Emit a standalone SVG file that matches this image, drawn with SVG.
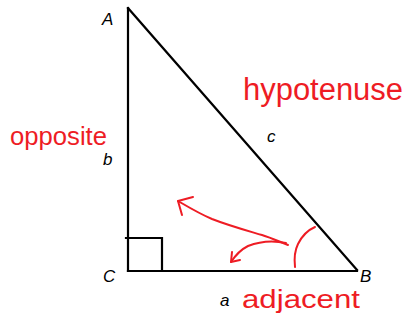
<svg xmlns="http://www.w3.org/2000/svg" width="412" height="322" viewBox="0 0 412 322">
<style>
.lbl{font-family:"Liberation Sans",Arial,sans-serif;font-style:italic;font-size:17px;fill:#000}
.hand{font-family:"Liberation Sans",Arial,sans-serif;fill:#ee1c24}
.edge{stroke:#000;stroke-width:2.2;fill:none;stroke-linecap:square}
.red{stroke:#ee1c24;stroke-width:2;fill:none;stroke-linecap:round;stroke-linejoin:round}
</style>
<rect width="412" height="322" fill="#fff"/>
<g id="connectors">
<line class="edge" x1="128" y1="8" x2="128" y2="271"/>
<line class="edge" x1="128" y1="271" x2="357" y2="271"/>
<line class="edge" x1="128" y1="8" x2="357" y2="270"/>
<path class="edge" d="M126,238 H162 V271"/>
<path class="red" d="M295,267 C294,258 295,250 298,244 C302,236 308,230 315,227"/>
<path class="red" d="M288,245 C280,242 272,238 262,235 C245,230 230,226 212,219 C200,214 190,208 178,201"/>
<path class="red" d="M178,201 L193,197 M178,201 L182,215"/>
<path class="red" d="M286,243 C272,240 258,242 248,246 C240,250 235,256 231,262"/>
<path class="red" d="M231,262 L240,260 M231,262 L232,252"/>
</g>
<g id="vertex-A"><text class="lbl" x="102" y="25">A</text></g>
<g id="vertex-B"><text class="lbl" x="360" y="282">B</text></g>
<g id="vertex-C"><text class="lbl" x="103" y="282">C</text></g>
<g id="side-a"><text class="lbl" x="220" y="306">a</text></g>
<g id="side-b"><text class="lbl" x="103" y="165">b</text></g>
<g id="side-c"><text class="lbl" x="267" y="142">c</text></g>
<g id="label-hypotenuse"><text class="hand" x="243" y="100" font-size="31" textLength="160" lengthAdjust="spacingAndGlyphs">hypotenuse</text></g>
<g id="label-opposite"><text class="hand" x="10" y="145" font-size="26" textLength="97" lengthAdjust="spacingAndGlyphs">opposite</text></g>
<g id="label-adjacent"><text class="hand" x="242" y="308" font-size="25" textLength="118" lengthAdjust="spacingAndGlyphs">adjacent</text></g>
</svg>
